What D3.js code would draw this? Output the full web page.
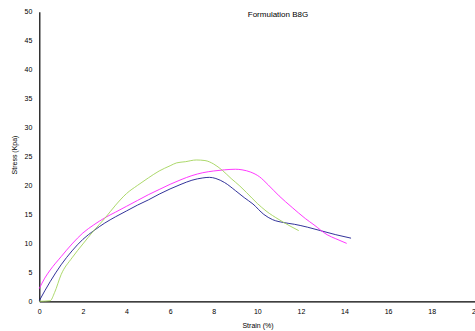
<!DOCTYPE html>
<html>
<head>
<meta charset="utf-8">
<script src="https://cdn.jsdelivr.net/npm/d3@7"></script>
<style>
	body { margin: 0; background: #fff; }
	text { font-family: "Liberation Sans", Arial, sans-serif; fill: #000; }
</style>
</head>
<body>
<div id="chart"></div>
<script>

// data (strain %, stress Kpa)
var blueStrain = [0, 0.25, 0.5, 1, 1.5, 2, 2.5, 3, 3.5, 4, 4.5, 5, 5.5, 6, 6.5, 7, 7.5, 7.8, 8.1, 8.5, 9, 9.4, 9.8, 10.3, 10.7, 11.2, 11.7, 12.3, 12.9, 13.6, 14.3];
var blueStress = [0.1, 1.8, 3.4, 6.3, 8.7, 10.7, 12.2, 13.5, 14.6, 15.6, 16.6, 17.5, 18.5, 19.4, 20.2, 20.9, 21.3, 21.4, 21.2, 20.5, 19.1, 17.9, 16.8, 15.0, 14.1, 13.6, 13.3, 12.8, 12.2, 11.5, 10.9];

var pinkStrain = [0, 0.25, 0.5, 1, 1.5, 2, 2.5, 3, 3.5, 4, 4.5, 5, 5.5, 6, 6.5, 7, 7.5, 8, 8.5, 9, 9.3, 9.7, 10.1, 10.5, 11, 11.6, 12.2, 12.6, 13.2, 13.6, 14.1];
var pinkStress = [2.2, 4.0, 5.4, 7.7, 9.9, 11.8, 13.2, 14.4, 15.4, 16.4, 17.4, 18.4, 19.3, 20.2, 21.0, 21.7, 22.2, 22.5, 22.7, 22.8, 22.7, 22.3, 21.5, 20.1, 18.2, 16.2, 14.3, 13.2, 11.5, 10.8, 10.0];

var greenStrain = [0, 0.5, 0.7, 1, 1.5, 2, 2.5, 3, 3.5, 4, 4.5, 5, 5.5, 6, 6.3, 6.7, 7.2, 7.6, 8, 8.4, 8.8, 9.2, 9.5, 10, 10.4, 11, 11.5, 11.9];
var greenStress = [0, 0.1, 1.5, 4.6, 7.5, 9.9, 12.2, 14.3, 16.6, 18.6, 20.0, 21.3, 22.5, 23.4, 23.9, 24.1, 24.4, 24.3, 23.7, 22.6, 21.2, 19.9, 18.8, 16.9, 15.6, 14.1, 13.0, 12.2];

var xTicks = [0, 2, 4, 6, 8, 10, 12, 14, 16, 18, 20];
var yTicks = [0, 5, 10, 15, 20, 25, 30, 35, 40, 45, 50];

var series = [
	{ strain: blueStrain, stress: blueStress, color: "#1c1c8f" },
	{ strain: pinkStrain, stress: pinkStress, color: "#ff22ff" },
	{ strain: greenStrain, stress: greenStress, color: "#a3d45a" }
];

// set the specs
var width = 475;
var height = 331;
var marginLeft = 39.3;
var marginTop = 11.7;
var marginBottom = 29.7;

var svg = d3.select("#chart")
	.append("svg")
	.attr("width", width)
	.attr("height", height);

// scales
var xScale = d3.scaleLinear()
	.domain([0, 20])
	.range([marginLeft, marginLeft + 436]);

var yScale = d3.scaleLinear()
	.domain([0, 50])
	.range([height - marginBottom, marginTop]);

// axes (no tick marks, only labels)
var xAxis = d3.axisBottom(xScale)
	.tickValues(xTicks)
	.tickSize(0)
	.tickPadding(8);

var yAxis = d3.axisLeft(yScale)
	.tickValues(yTicks)
	.tickSize(0)
	.tickPadding(7);

var gx = svg.append("g")
	.attr("transform", "translate(0," + (height - marginBottom) + ")")
	.call(xAxis);

var gy = svg.append("g")
	.attr("transform", "translate(" + marginLeft + ",0)")
	.call(yAxis);

[gx, gy].forEach(function(g){
	g.select(".domain").attr("stroke", "#000").attr("stroke-width", 1.2);
	g.selectAll("text").style("font-size", "7px").attr("fill", "#222");
});

// lines
var line = d3.line()
	.x(function(d){ return xScale(d[0]); })
	.y(function(d){ return yScale(d[1]); })
	.curve(d3.curveMonotoneX);

series.forEach(function(s){
	var pts = s.strain.map(function(v, i){ return [v, s.stress[i]]; });
	svg.append("path")
		.datum(pts)
		.attr("d", line)
		.attr("fill", "none")
		.attr("stroke", s.color)
		.attr("stroke-width", 0.9);
});

// titles
svg.append("text")
	.attr("x", 278)
	.attr("y", 17)
	.attr("text-anchor", "middle")
	.style("font-size", "8px")
	.text("Formulation B8G");

svg.append("text")
	.attr("x", 258)
	.attr("y", 328)
	.attr("text-anchor", "middle")
	.style("font-size", "7px")
	.text("Strain (%)");

svg.append("text")
	.attr("transform", "translate(17,155) rotate(-90)")
	.attr("text-anchor", "middle")
	.style("font-size", "7px")
	.text("Stress (Kpa)");

</script>
</body>
</html>
